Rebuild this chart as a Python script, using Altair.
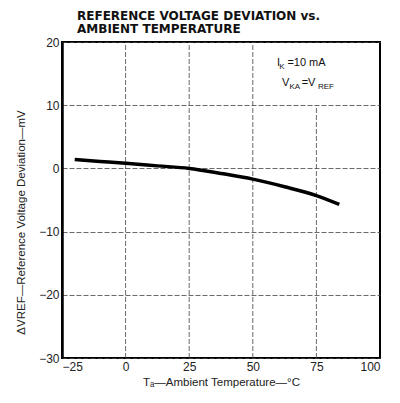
import altair as alt
import pandas as pd

# Curve
temps = [-20, -10, 0, 12.5, 25, 37.5, 50, 62.5, 75, 84]
devs = [1.4, 1.1, 0.8, 0.4, 0.0, -0.8, -1.7, -2.9, -4.3, -5.7]

x_ticks = [-25, 0, 25, 50, 75, 100]
y_ticks = [-30, -20, -10, 0, 10, 20]

# Vertical grid lines (the 75 line stops at 10 under the note)
vgrid_x = [0, 25, 50, 75]
vgrid_top = [20, 20, 20, 10]

# Annotation pieces (main text and subscripts)
main_text = ["I", "=10  mA", "V", "=V"]
main_x = [59.5, 63.6, 61.5, 69.2]
main_y = [16.7, 16.7, 13.5, 13.5]
sub_text = ["K", "KA", "REF"]
sub_x = [60.4, 64.4, 75.6]
sub_y = [16.1, 12.9, 12.9]

df = pd.DataFrame({"t": temps, "d": devs})
df_grid = pd.DataFrame({"x": vgrid_x, "top": vgrid_top, "bot": [-30] * len(vgrid_x)})
df_main = pd.DataFrame({"txt": main_text, "x": main_x, "y": main_y})
df_sub = pd.DataFrame({"txt": sub_text, "x": sub_x, "y": sub_y})

FONT = "Liberation Sans"

xs = alt.Scale(domain=[-25, 100], nice=False, zero=False)
ys = alt.Scale(domain=[-30, 20], nice=False, zero=False)

grid = alt.Chart(df_grid).mark_rule(color="#444", strokeWidth=0.8, strokeDash=[5, 2]).encode(
    x=alt.X("x:Q", scale=xs,
            axis=alt.Axis(values=x_ticks, title="Tₐ—Ambient Temperature—°C",
                          grid=False, ticks=False, domain=False, labelPadding=3,
                          titlePadding=4)),
    y=alt.Y("bot:Q", scale=ys,
            axis=alt.Axis(values=y_ticks, title="ΔVREF—Reference Voltage Deviation—mV",
                          grid=True, ticks=False, domain=True, domainWidth=2.5,
                          domainColor="black", labelPadding=3, titlePadding=12,
                          titleY=180)),
    y2="top:Q",
)

line = alt.Chart(df).mark_line(color="black", strokeWidth=3.5, interpolate="monotone").encode(
    x=alt.X("t:Q", scale=xs),
    y=alt.Y("d:Q", scale=ys),
)

main = alt.Chart(df_main).mark_text(align="left", baseline="middle", fontSize=11,
                                     font=FONT, color="#111").encode(
    x=alt.X("x:Q", scale=xs), y=alt.Y("y:Q", scale=ys), text="txt:N")
sub = alt.Chart(df_sub).mark_text(align="left", baseline="middle", fontSize=8,
                                   font=FONT, color="#111").encode(
    x=alt.X("x:Q", scale=xs), y=alt.Y("y:Q", scale=ys), text="txt:N")

chart = alt.layer(grid, line, main, sub).properties(
    width=318, height=316,
    autosize=alt.AutoSizeParams(type="none"),
    padding={"left": 54, "top": 34, "right": 12, "bottom": 37},
    title=alt.Title(["REFERENCE VOLTAGE DEVIATION vs.", "AMBIENT TEMPERATURE"],
                    anchor="start", frame="group", dx=15, offset=0, fontSize=12,
                    font="DejaVu Sans", fontWeight="bold", color="#111",
                    lineHeight=13),
).configure_view(stroke="black", strokeWidth=2).configure_axis(
    labelFont=FONT, labelFontSize=12, labelColor="#222",
    titleFont=FONT, titleFontSize=11.5, titleFontWeight="normal", titleColor="#222",
    gridColor="#444", gridWidth=0.8, gridDash=[5, 2],
)

chart.save("out.html", embed_options={"renderer": "svg", "actions": False})
